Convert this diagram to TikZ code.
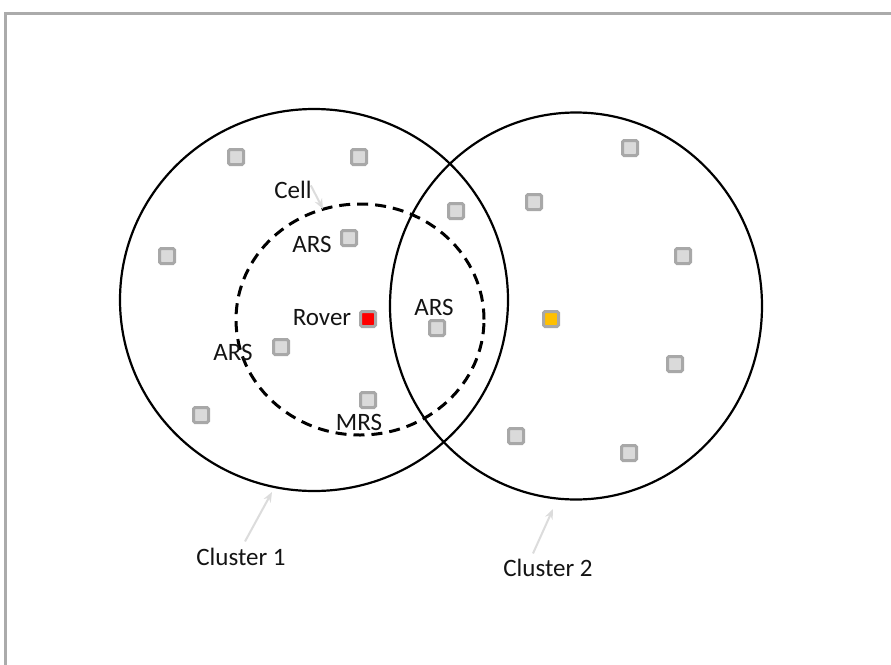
\documentclass[tikz,border=0pt]{standalone}
\usepackage{fontspec}
\setmainfont{Carlito}
\usetikzlibrary{shapes.geometric,arrows.meta}
\definecolor{framegray}{HTML}{ABABAB}
\definecolor{boxfill}{HTML}{DADADA}
\definecolor{boxedge}{HTML}{A8A8A8}
\definecolor{pointer}{HTML}{DCDCDC}
\definecolor{roverred}{HTML}{FF0000}
\definecolor{hubamber}{HTML}{FFC000}
\begin{document}
\begin{tikzpicture}[x=1pt,y=-1pt,
  station/.style={draw=boxedge, fill=boxfill, line width=3pt, minimum size=15pt,
                  inner sep=0pt, rounded corners=1.5pt},
  lbl/.style={font=\fontsize{25}{28}\selectfont, text=black!92, inner sep=0pt, anchor=base},
  cluster/.style={ellipse, draw=black, line width=2.2pt, inner sep=0pt},
  cellring/.style={ellipse, draw=black, line width=3pt, dash pattern=on 11pt off 7pt, inner sep=0pt},
  pointerarrow/.style={draw=pointer, line width=2pt, -{Stealth[length=10pt,width=8pt]}}]
\useasboundingbox (0,0) rectangle (891,664);
\fill[white] (0,0) rectangle (891,664);
% page frame (top and left edges visible)
\draw[framegray, line width=3pt] (5.5,700) -- (5.5,13.5) -- (900,13.5);

% clusters and the cell around the rover
\node[cluster, minimum width=388pt, minimum height=382pt] (cl1) at (314,300) {};
\node[cluster, minimum width=372pt, minimum height=387pt] (cl2) at (576,306) {};
\node[cellring, minimum width=248pt, minimum height=231pt] (cell) at (360,319.5) {};

% stations
\node[station] (s1)  at (236,157) {};
\node[station] (s2)  at (359,157) {};
\node[station] (s3)  at (630,148) {};
\node[station] (s4)  at (456,211) {};
\node[station] (s5)  at (534,202) {};
\node[station] (s6)  at (349,238) {};
\node[station] (s7)  at (167,256) {};
\node[station] (s8)  at (683,256) {};
\node[station, fill=roverred] (rov) at (368,319) {};
\node[station] (s9)  at (437,328) {};
\node[station, fill=hubamber] (hub) at (551,319) {};
\node[station] (s10) at (281,347) {};
\node[station] (s11) at (675,364) {};
\node[station] (s12) at (368,400) {};
\node[station] (s13) at (201,415) {};
\node[station] (s14) at (516,436) {};
\node[station] (s15) at (629,453) {};

% labels
\node[lbl] (tcell) at (293,198) {Cell};
\node[lbl] (tars1) at (312,252) {ARS};
\node[lbl] (trov)  at (322,325) {Rover};
\node[lbl] (tars2) at (434,315) {ARS};
\node[lbl] (tars3) at (233,360) {ARS};
\node[lbl] (tmrs)  at (359,430) {MRS};
\node[lbl] (tc1)   at (241,565) {Cluster 1};
\node[lbl] (tc2)   at (548,576) {Cluster 2};

% pointers from labels to their rings
\coordinate (cellpt) at (323,209);
\coordinate (c1pt) at (272,492);
\coordinate (c2pt) at (553,509);
\draw[pointerarrow] (tcell.north east) ++(-1,5) -- (cellpt);
\draw[pointerarrow] (tc1.north) ++(4,-6) -- (c1pt);
\draw[pointerarrow] (tc2.north) ++(-15,-5) -- (c2pt);
\end{tikzpicture}
\end{document}
